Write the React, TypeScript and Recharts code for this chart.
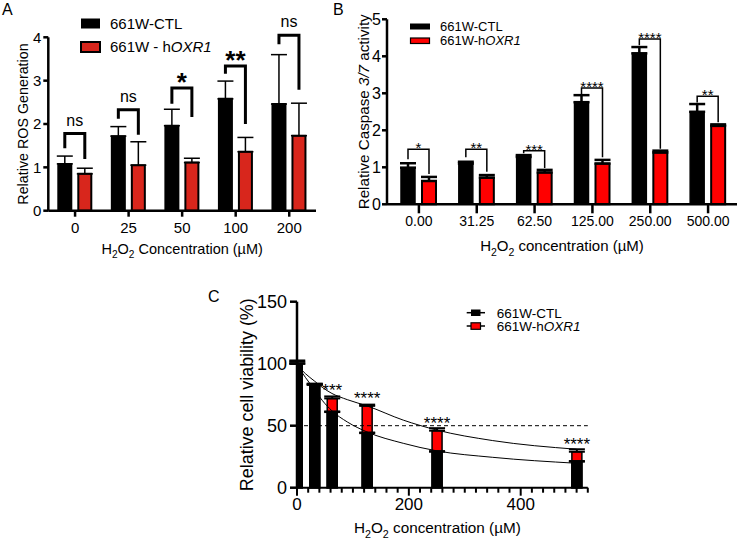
import React from 'react';
import {
  BarChart, Bar, XAxis, YAxis, ErrorBar, LabelList, Label, ComposedChart, Line, ReferenceLine,
} from 'recharts';

const FONT = 'Arial, "Liberation Sans", Helvetica, sans-serif';
const RED_A = '#d8261c';
const RED = '#ff0000';

// A – ROS generation
const rosDoses = ['0', '25', '50', '100', '200'];
const rosCtl = [1.08, 1.72, 1.96, 2.58, 2.46];
const rosCtlSd = [0.18, 0.22, 0.38, 0.41, 1.14];
const rosOxr = [0.85, 1.05, 1.11, 1.36, 1.73];
const rosOxrSd = [0.13, 0.54, 0.1, 0.33, 0.75];
const rosSig = ['ns', 'ns', '*', '**', 'ns'];
const rosBrTop = [1.78, 2.33, 2.83, 3.34, 4.05];
const rosBrLeft = [1.44, 2.12, 2.47, 3.16, 3.84];
const rosBrRight = [1.19, 1.75, 2.16, 2.0, 2.79];
const rosTicks = [0, 1, 2, 3, 4];

// B – caspase 3/7
const caspDoses = ['0.00', '31.25', '62.50', '125.00', '250.00', '500.00'];
const caspCtl = [0.99, 1.1, 1.28, 2.76, 4.08, 2.5];
const caspCtlSd = [0.12, 0.05, 0.05, 0.19, 0.17, 0.21];
const caspOxr = [0.63, 0.72, 0.86, 1.1, 1.4, 2.12];
const caspOxrSd = [0.11, 0.07, 0.07, 0.1, 0.05, 0.04];
const caspSig = ['*', '**', '***', '****', '****', '**'];
const caspBrTop = [1.49, 1.49, 1.45, 3.14, 4.47, 2.92];
const caspBrLeft = [1.22, 1.27, 1.38, 2.98, 4.3, 2.75];
const caspBrRight = [0.82, 0.88, 0.98, 1.27, 1.5, 2.22];
const caspTicks = [0, 1, 2, 3, 4, 5];

// C – cell viability
const viabConc = [0, 31.25, 62.5, 125, 250, 500];
const viabCtl = [100, 83, 61, 44, 29, 21];
const viabCtlSd = [2.6, 0.8, 0.5, 0.5, 0.5, 0.5];
const viabOxr = [100, 83, 72, 66, 46, 29];
const viabOxrSd = [1.5, 0.8, 1.6, 1, 2, 2];
const viabSig = ['', '', '***', '****', '****', '****'];
const fitConc = [0, 15, 31.25, 45, 62.5, 90, 125, 190, 250, 350, 500];
const fitCtl = [99, 89, 79, 70.5, 62, 53, 45, 35.8, 29.7, 24.5, 19.7];
const fitOxr = [99, 92, 86, 81, 76, 71, 66, 54.5, 46.5, 38, 31];
const viabYTicks = [0, 50, 100, 150];
const viabXTicks = [0, 20, 40, 60, 80, 100, 120, 140, 160, 180, 200, 220, 240, 260, 280, 300, 320, 340, 360, 380, 400, 420, 440, 460, 480, 500, 520];

const rosData = rosDoses.map((d, i) => ({
  dose: d, ctl: rosCtl[i], ctlErr: [0, rosCtlSd[i]], oxr: rosOxr[i], oxrErr: [0, rosOxrSd[i]],
}));
const caspData = caspDoses.map((d, i) => ({
  dose: d, ctl: caspCtl[i], ctlErr: [0, caspCtlSd[i]], oxr: caspOxr[i], oxrErr: [0, caspOxrSd[i]],
}));
const viabData = viabConc.map((c, i) => ({
  conc: c, ctl: viabCtl[i], ctlErr: [0, viabCtlSd[i]], oxr: viabOxr[i], oxrErr: [0, viabOxrSd[i]],
}));
const fitCtlData = fitConc.map((c, i) => ({ conc: c, fit: fitCtl[i] }));
const fitOxrData = fitConc.map((c, i) => ({ conc: c, fit: fitOxr[i] }));

const axisStyle = (w: number) => ({ stroke: '#000', strokeWidth: w });

const H2O2Title = ({ x, y, size, word }: any) => (
  <text x={x} y={y} textAnchor="middle" fontSize={size} fill="#000" style={{ whiteSpace: 'pre' }}>
    H<tspan dy={size * 0.3} fontSize={size * 0.7}>2</tspan>
    <tspan dy={-size * 0.3}>O</tspan>
    <tspan dy={size * 0.3} fontSize={size * 0.7}>2</tspan>
    <tspan dy={-size * 0.3}>{` ${word} (µM)`}</tspan>
  </text>
);

const xTitle = (word: string, size: number, dy: number, dx = 0) => (p: any) => {
  const vb = p.viewBox;
  return <H2O2Title x={vb.x + vb.width / 2 + dx} y={vb.y + dy} size={size} word={word} />;
};

const yTitle = (cx: number, size: number, parts: any) => (p: any) => {
  const vb = p.viewBox;
  const cy = vb.y + vb.height / 2;
  return (
    <text x={cx} y={cy} transform={`rotate(-90 ${cx} ${cy})`} textAnchor="middle"
      dominantBaseline="central" fontSize={size} fill="#000" style={{ whiteSpace: 'pre' }}>
      {parts}
    </text>
  );
};

// bracket drawn from the control bar: scale taken from the bar itself
const bracket = (tops: number[], lefts: number[], rights: number[], sigs: string[], gap: number, o: any) => (p: any) => {
  const i = p.index;
  const v = Number(p.value);
  if (i == null || !v) return null;
  const vb = p.viewBox && p.viewBox.width != null ? p.viewBox : p;
  const { x, y, width, height } = vb;
  const base = y + height;
  const k = height / v;
  const py = (val: number) => base - val * k;
  const x1 = x + width / 2;
  const x2 = x1 + width + gap;
  const yt = py(tops[i]);
  const s = sigs[i];
  const star = s.startsWith('*');
  return (
    <g>
      <path d={`M${x1},${py(lefts[i])}V${yt}H${x2}V${py(rights[i])}`} fill="none" stroke="#000"
        strokeWidth={o.sw} strokeLinejoin="miter" />
      <text x={(x1 + x2) / 2} y={yt + (star ? o.starDy : o.nsDy)} textAnchor="middle"
        fontSize={star ? o.starSize : o.nsSize} fontWeight={star ? o.starWeight : 'normal'} fill="#000">
        {s}
      </text>
    </g>
  );
};

const rosBracket = bracket(rosBrTop, rosBrLeft, rosBrRight, rosSig, 7,
  { sw: 3, starDy: 3, nsDy: -8, starSize: 26, nsSize: 16, starWeight: 'bold' });
const caspBracket = bracket(caspBrTop, caspBrLeft, caspBrRight, caspSig, 7,
  { sw: 1.5, starDy: 4, nsDy: -4, starSize: 15, nsSize: 15, starWeight: 'normal' });

const viabStars = (p: any) => {
  const i = p.index;
  const vb = p.viewBox && p.viewBox.width != null ? p.viewBox : p;
  if (i == null || !viabSig[i]) return null;
  return (
    <text x={vb.x + vb.width / 2} y={vb.y - 2} textAnchor="middle" fontSize={17} fill="#000">
      {viabSig[i]}
    </text>
  );
};

const ViabTick = (p: any) => {
  const { x, y, payload } = p;
  const major = payload.value % 200 === 0;
  return (
    <g>
      <line x1={x} x2={x} y1={y} y2={y + (major ? 8 : 5)} stroke="#000" strokeWidth={2} />
      {major && (
        <text x={x} y={y + 22.5} textAnchor="middle" fontSize={17} fill="#000">{payload.value}</text>
      )}
    </g>
  );
};

const App = () => {
  return (
    <div style={{ position: 'absolute', left: 0, top: 0, width: 737, height: 539, fontFamily: FONT, background: '#fff', overflow: 'hidden' }}>
      {/* A */}
      <div style={{ position: 'absolute', left: 0, top: 0 }}>
        <BarChart width={330} height={270} data={rosData} barGap={7}
          margin={{ top: 37.3, right: 14, bottom: 0, left: 0 }}>
          <XAxis dataKey="dose" interval={0} height={59.3} tickSize={6} tickMargin={6}
            axisLine={axisStyle(2.5)} tickLine={axisStyle(2.5)} tick={{ fill: '#000', fontSize: 15 }}>
            <Label content={xTitle('Concentration', 14.5, 43)} />
          </XAxis>
          <YAxis domain={[0, 4]} ticks={rosTicks} interval={0} width={48.3} tickSize={5} tickMargin={2}
            axisLine={axisStyle(2.5)} tickLine={axisStyle(2.5)} tick={{ fill: '#000', fontSize: 15 }}>
            <Label content={yTitle(23.3, 14.3, 'Relative ROS Generation')} />
          </YAxis>
          <Bar dataKey="ctl" barSize={13} fill="#000" stroke="#000" strokeWidth={2} isAnimationActive={false}>
            <ErrorBar dataKey="ctlErr" width={8} stroke="#000" strokeWidth={1.5} />
            <LabelList dataKey="ctl" content={rosBracket} />
          </Bar>
          <Bar dataKey="oxr" barSize={13} fill={RED_A} stroke="#000" strokeWidth={2} isAnimationActive={false}>
            <ErrorBar dataKey="oxrErr" width={8} stroke="#000" strokeWidth={1.5} />
          </Bar>
        </BarChart>
      </div>

      {/* B */}
      <div style={{ position: 'absolute', left: 338, top: 0 }}>
        <BarChart width={399} height={270} data={caspData} barGap={7}
          margin={{ top: 19.3, right: 0, bottom: 0, left: 0 }}>
          <XAxis dataKey="dose" interval={0} height={65.7} tickSize={9} tickMargin={3}
            padding={{ left: 3, right: 0 }}
            axisLine={axisStyle(2.5)} tickLine={axisStyle(2.5)} tick={{ fill: '#000', fontSize: 14 }}>
            <Label content={xTitle('concentration', 15, 47)} />
          </XAxis>
          <YAxis domain={[0, 5]} ticks={caspTicks} interval={0} width={49} tickSize={5} tickMargin={1}
            axisLine={axisStyle(2.5)} tickLine={axisStyle(2.5)} tick={{ fill: '#000', fontSize: 16 }}>
            <Label content={yTitle(25.3, 15.2, [
              'Relative Caspase ', <tspan key="n" fontStyle="italic">3/7</tspan>, ' activity',
            ])} />
          </YAxis>
          <Bar dataKey="ctl" barSize={14} fill="#000" stroke="#000" strokeWidth={1.5} isAnimationActive={false}>
            <ErrorBar dataKey="ctlErr" width={8} stroke="#000" strokeWidth={2.5} />
            <LabelList dataKey="ctl" content={caspBracket} />
          </Bar>
          <Bar dataKey="oxr" barSize={14} fill={RED} stroke="#000" strokeWidth={2} isAnimationActive={false}>
            <ErrorBar dataKey="oxrErr" width={8} stroke="#000" strokeWidth={2.5} />
          </Bar>
        </BarChart>
      </div>

      {/* C */}
      <div style={{ position: 'absolute', left: 180, top: 280 }}>
        <ComposedChart width={420} height={259} data={viabData}
          margin={{ top: 21.7, right: 12.2, bottom: 0, left: 0 }}>
          <XAxis dataKey="conc" type="number" domain={[0, 520]} ticks={viabXTicks} interval={0}
            height={51.3} tickSize={0} tickMargin={0} tickLine={false} tick={<ViabTick />}
            axisLine={axisStyle(2)} allowDataOverflow>
            <Label content={xTitle('concentration', 15.3, 45.6, -5)} />
          </XAxis>
          <XAxis xAxisId="hOxr" dataKey="conc" type="number" domain={[0, 520]} hide allowDataOverflow />
          <XAxis xAxisId="hCtl" dataKey="conc" type="number" domain={[0, 520]} hide allowDataOverflow />
          <YAxis domain={[0, 150]} ticks={viabYTicks} interval={0} width={117} tickSize={7} tickMargin={3}
            axisLine={axisStyle(2.5)} tickLine={axisStyle(2.5)} tick={{ fill: '#000', fontSize: 18 }}>
            <Label content={yTitle(66.7, 17.9, 'Relative cell viability (%)')} />
          </YAxis>
          <ReferenceLine y={50} stroke="#000" strokeWidth={1} strokeDasharray="4 3" />
          <Bar xAxisId="hOxr" dataKey="oxr" barSize={10} fill={RED} stroke="#000" strokeWidth={1.5}
            isAnimationActive={false}>
            <ErrorBar dataKey="oxrErr" width={8} stroke="#000" strokeWidth={2} />
            <LabelList dataKey="oxr" content={viabStars} />
          </Bar>
          <Bar xAxisId="hCtl" dataKey="ctl" barSize={10} fill="#000" stroke="#000" strokeWidth={1.5}
            isAnimationActive={false}>
            <ErrorBar dataKey="ctlErr" width={8} stroke="#000" strokeWidth={2} />
          </Bar>
          <Line data={fitCtlData} dataKey="fit" type="monotone" dot={false} stroke="#000" strokeWidth={1}
            isAnimationActive={false} />
          <Line data={fitOxrData} dataKey="fit" type="monotone" dot={false} stroke="#000" strokeWidth={1}
            isAnimationActive={false} />
        </ComposedChart>
      </div>

      {/* panel letters and legends */}
      <svg width={737} height={539} style={{ position: 'absolute', left: 0, top: 0, pointerEvents: 'none' }}
        fontFamily={FONT}>
        <text x={2} y={15} fontSize={16}>A</text>
        <text x={333} y={15} fontSize={16}>B</text>
        <text x={208} y={302} fontSize={16}>C</text>

        <rect x={81} y={18.5} width={19} height={10} fill="#000" />
        <rect x={81} y={42} width={19} height={10} fill={RED_A} stroke="#000" strokeWidth={2} />
        <text x={110} y={29.3} fontSize={15}>661W-CTL</text>
        <text x={110} y={51.7} fontSize={15} style={{ whiteSpace: 'pre' }}>
          661W - h<tspan fontStyle="italic">OXR1</tspan>
        </text>

        <rect x={410} y={23.5} width={20} height={6} fill="#000" />
        <rect x={410.5} y={38} width={19} height={5.5} fill={RED} stroke="#000" strokeWidth={1.2} />
        <text x={440} y={30.7} fontSize={13}>661W-CTL</text>
        <text x={440} y={45} fontSize={13}>
          661W-h<tspan fontStyle="italic">OXR1</tspan>
        </text>

        <line x1={466.7} x2={485} y1={312.7} y2={312.7} stroke="#000" strokeWidth={1.5} />
        <rect x={471} y={309.5} width={9.5} height={6.5} fill="#000" />
        <text x={496.7} y={317.5} fontSize={13.5}>661W-CTL</text>
        <line x1={466.7} x2={485} y1={326} y2={326} stroke="#000" strokeWidth={1.5} />
        <rect x={471} y={322.8} width={9.5} height={6.5} fill={RED} stroke="#000" strokeWidth={1.2} />
        <text x={496.7} y={331} fontSize={13.5}>
          661W-h<tspan fontStyle="italic">OXR1</tspan>
        </text>
      </svg>
    </div>
  );
};

export default App;
